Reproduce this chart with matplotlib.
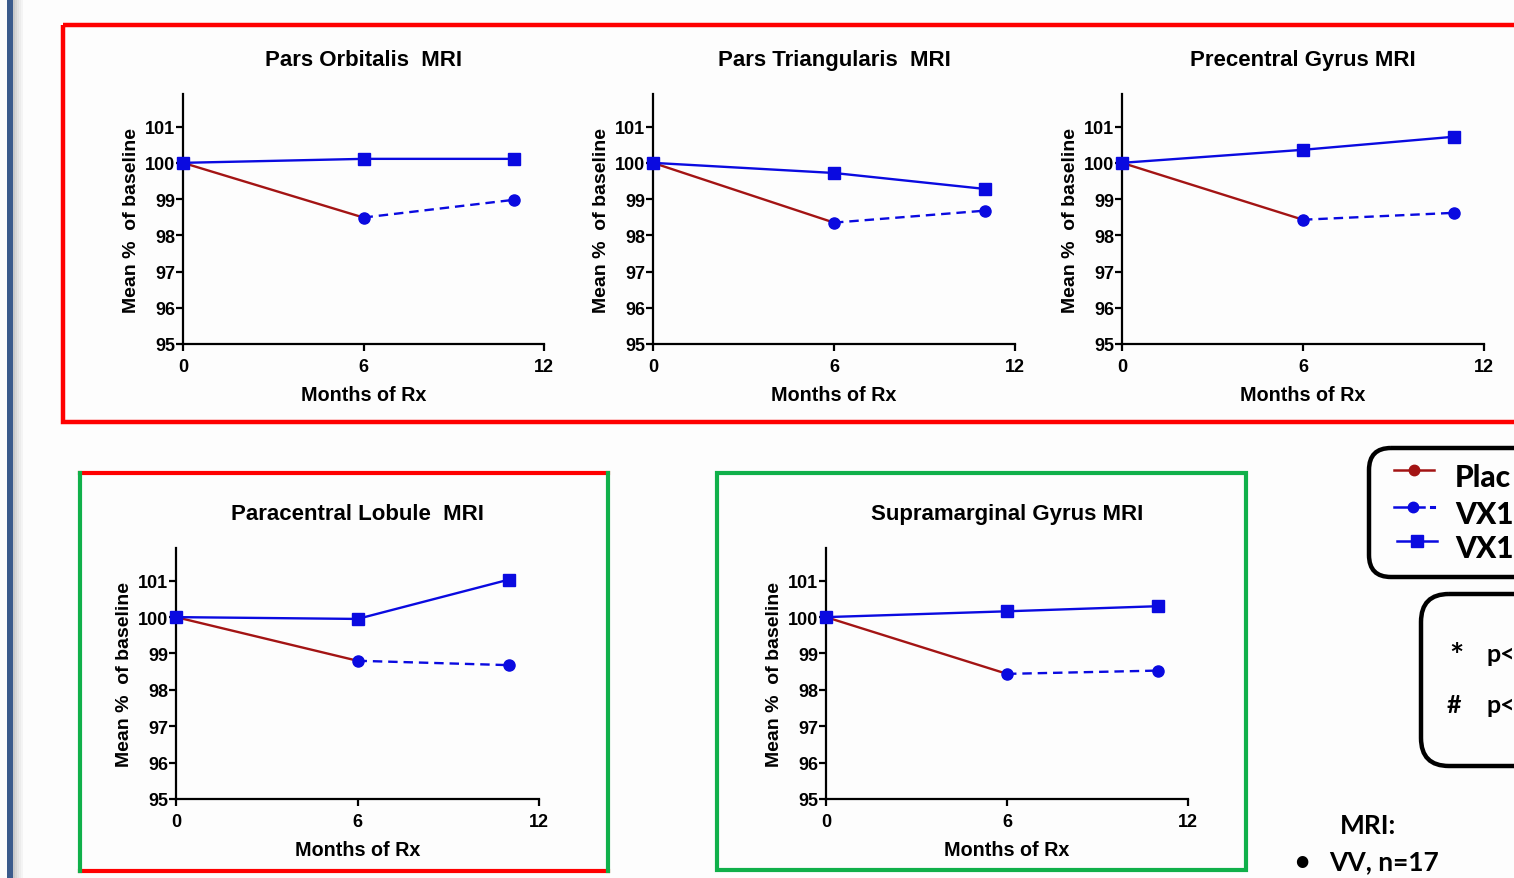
import matplotlib
matplotlib.use("Agg")
import matplotlib.pyplot as plt
from matplotlib.patches import FancyBboxPatch, Rectangle
from matplotlib.lines import Line2D

# months of treatment at each scan
placebo_months = [0, 6]
delayed_months = [6, 11]
early_months = [0, 6, 11]

titles = ["Pars Orbitalis  MRI", "Pars Triangularis  MRI", "Precentral Gyrus MRI",
          "Paracentral Lobule  MRI", "Supramarginal Gyrus MRI"]

# mean % of baseline
placebo = [[100, 98.49], [100, 98.35], [100, 98.43], [100, 98.80], [100, 98.44]]
delayed = [[98.49, 98.98], [98.35, 98.68], [98.43, 98.62], [98.80, 98.68], [98.44, 98.53]]
early = [[100, 100.11, 100.11], [100, 99.72, 99.28], [100, 100.36, 100.72],
         [100, 99.95, 101.03], [100, 100.16, 100.30]]

yticks = [95, 96, 97, 98, 99, 100, 101]
xticks = [0, 6, 12]

# side panel texts (cut off at the slide edge in the source)
legend_labels = ["Plac", "VX1", "VX1"]
sig_marks = ["*", "#"]
sig_text = "p<"

W, H = 1514, 879
RED = "#a31414"
BLUE = "#0a0ae0"
chart_font = "Liberation Sans"
side_font = "Lato"

fig = plt.figure(figsize=(W / 100, H / 100), dpi=100)
fig.patch.set_facecolor("#fdfdfd")

# overlay in pixel coords for the frames and side notes
bg = fig.add_axes([0, 0, 1, 1])
bg.set_xlim(0, W)
bg.set_ylim(H, 0)
bg.axis("off")
bg.set_zorder(-1)

# left slide strip + shadow
bg.add_patch(Rectangle((7, 0), 6, H, color="#3b5b8c", lw=0))
for i, c in enumerate(["#c8c8c8", "#d6d6d6", "#e2e2e2", "#ececec", "#f4f4f4"]):
    bg.add_patch(Rectangle((13 + i * 2, 0), 2, H, color=c, lw=0))

# coloured frames
bg.add_patch(Rectangle((63, 26), 1500, 397, fill=False, ec="#ff0000", lw=3.2))
bg.plot([80, 608], [474, 474], color="#ff0000", lw=3)
bg.plot([80, 608], [872, 872], color="#ff0000", lw=3)
bg.plot([80, 80], [474, 872], color="#10b04a", lw=3)
bg.plot([608, 608], [474, 872], color="#10b04a", lw=3)
bg.add_patch(Rectangle((717, 474), 529, 397, fill=False, ec="#10b04a", lw=3))

# panel positions in pixels: x of 0, x of 12, y of 95, y of top
panels = [(183, 544, 345, 95), (653, 1015, 345, 95), (1122, 1484, 345, 95),
          (176, 539, 800, 549), (826, 1188, 800, 549)]

for k, (x0, x1, yb, yt) in enumerate(panels):
    ax = fig.add_axes([x0 / W, 1 - yb / H, (x1 - x0) / W, (yb - yt) / H])
    ax.set_facecolor("none")
    ax.plot(placebo_months, placebo[k], color=RED, lw=1.7, marker="o", ms=7, zorder=3)
    ax.plot(delayed_months, delayed[k], color=BLUE, lw=1.7, ls=(0, (4, 2.5)),
            marker="o", ms=8, zorder=4)
    ax.plot(early_months, early[k], color=BLUE, lw=1.7, marker="s", ms=8.5, zorder=5)
    ax.set_xlim(0, 12)
    ax.set_ylim(95, 101.9)
    ax.set_xticks(xticks)
    ax.set_yticks(yticks)
    for s in ["top", "right"]:
        ax.spines[s].set_visible(False)
    for s in ["left", "bottom"]:
        ax.spines[s].set_linewidth(1.6)
    ax.tick_params(direction="out", length=5, width=1.6, labelsize=13, pad=0.5)
    ax.tick_params(axis="x", pad=5)
    for t in ax.get_xticklabels() + ax.get_yticklabels():
        t.set_fontfamily(chart_font)
        t.set_fontweight("bold")
    ax.set_xlabel("Months of Rx", fontsize=14.2, fontweight="bold",
                  fontfamily=chart_font, labelpad=7)
    ax.set_ylabel("Mean %  of baseline", fontsize=14, fontweight="bold",
                  fontfamily=chart_font, labelpad=4)
    ax.set_title(titles[k], fontsize=16, fontweight="bold", fontfamily=chart_font, pad=21)
    for ln in ax.lines:
        ln.set_clip_on(False)

# legend box (runs off the right edge)
bg.add_patch(FancyBboxPatch((1369, 449), 300, 129, boxstyle="round,pad=0,rounding_size=22",
                            fill=False, ec="black", lw=3.2))
row_y = [471, 508, 542]
bg.add_line(Line2D([1394, 1434], [row_y[0]] * 2, color=RED, lw=1.8))
bg.plot([1414], [row_y[0]], marker="o", color=RED, ms=7.5)
bg.add_line(Line2D([1394, 1424], [row_y[1]] * 2, color=BLUE, lw=1.8))
bg.plot([1413], [row_y[1]], marker="o", color=BLUE, ms=7.5)
bg.plot([1431, 1434], [row_y[1]] * 2, color=BLUE, lw=2.2)
bg.add_line(Line2D([1397, 1437], [row_y[2]] * 2, color=BLUE, lw=1.8))
bg.plot([1417], [row_y[2]], marker="s", color=BLUE, ms=8)
for y, lab in zip(row_y, legend_labels):
    bg.text(1455, y + 7, lab, fontsize=21.5, fontweight="black", fontfamily=side_font,
            va="center", ha="left")

# significance box
bg.add_patch(FancyBboxPatch((1421, 595), 300, 172, boxstyle="round,pad=0,rounding_size=28",
                            fill=False, ec="black", lw=3.2))
bg.text(1449, 658, sig_marks[0], fontsize=24, fontweight="bold", fontfamily=side_font, va="center")
bg.text(1486, 655, sig_text, fontsize=18, fontweight="bold", fontfamily=side_font, va="center")
bg.text(1447, 706, sig_marks[1], fontsize=18, fontweight="bold", fontfamily=side_font, va="center")
bg.text(1486, 706, sig_text, fontsize=18, fontweight="bold", fontfamily=side_font, va="center")

bg.text(1340, 826, "MRI:", fontsize=19, fontweight="bold", fontfamily=side_font, va="center")
bg.text(1294, 862, "\u2022", fontsize=19, fontweight="bold", fontfamily=side_font, va="center")
bg.text(1329, 862, "VV, n=17", fontsize=19, fontweight="bold", fontfamily=side_font, va="center")

fig.savefig("out.png", dpi=100)
